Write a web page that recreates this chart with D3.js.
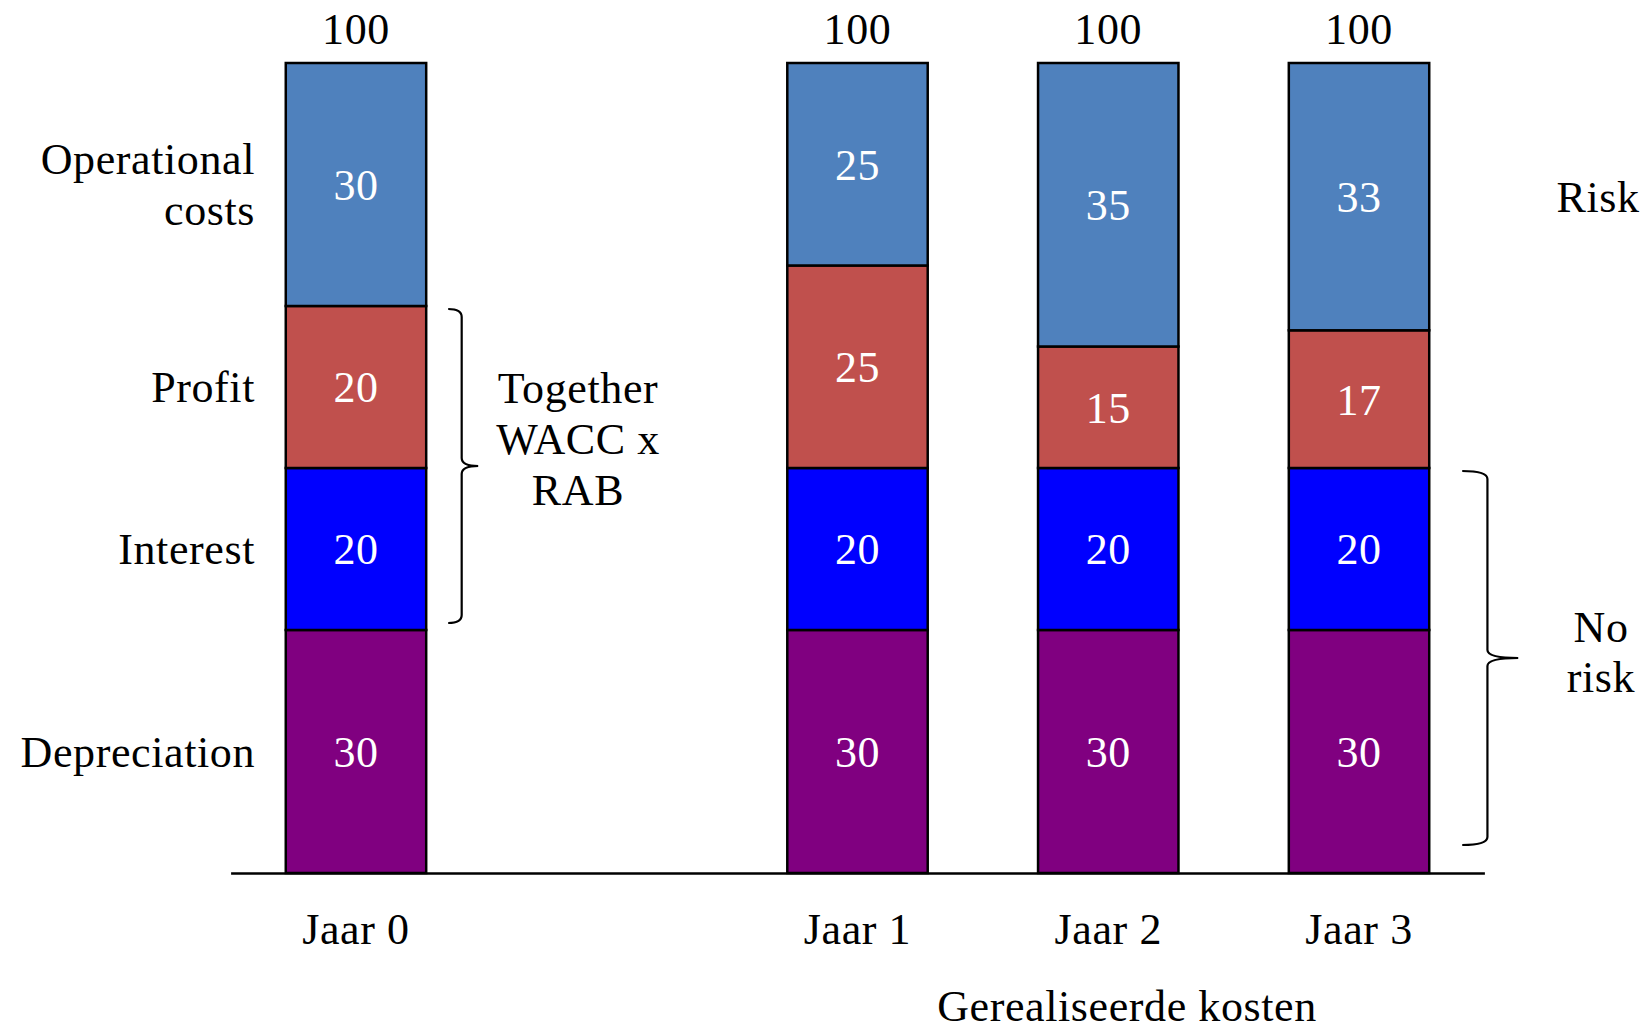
<!DOCTYPE html>
<html><head><meta charset="utf-8">
<script src="https://cdn.jsdelivr.net/npm/d3@7"></script>
<style>body{margin:0;background:#fff}text{font-family:"Liberation Serif","Times New Roman",serif;letter-spacing:0.6px}</style>
</head><body>
<svg id="c" width="1644" height="1031"></svg>
<script>
const categories = ["Jaar 0", "", "Jaar 1", "Jaar 2", "Jaar 3"];
const seriesNames = ["Depreciation", "Interest", "Profit", "Operational costs"];
const depreciation = [30, null, 30, 30, 30];
const interest = [20, null, 20, 20, 20];
const profit = [20, null, 25, 15, 17];
const operational = [30, null, 25, 35, 33];
const totals = [100, null, 100, 100, 100];
const colors = ["#800080", "#0000FF", "#C0504D", "#4F81BD"];
const leftLabels = [["Depreciation"], ["Interest"], ["Profit"], ["Operational", "costs"]];

const svg = d3.select("#c");
const FS = 44;
const x = d3.scaleBand().domain(categories).range([230.6, 1484.4]).paddingInner(0.44).paddingOuter(0.22);
const y = d3.scaleLinear().domain([0, 100]).range([873, 63]);

const rows = categories.map((c, i) => ({cat: c, Depreciation: depreciation[i], Interest: interest[i], Profit: profit[i], "Operational costs": operational[i]})).filter(d => d.cat !== "");
const stack = d3.stack().keys(seriesNames)(rows);

const layers = svg.selectAll("g.layer").data(stack).join("g").attr("fill", (d, i) => colors[i]);
layers.selectAll("rect").data(d => d).join("rect")
  .attr("x", d => x(d.data.cat)).attr("width", x.bandwidth())
  .attr("y", d => y(d[1])).attr("height", d => y(d[0]) - y(d[1]))
  .attr("stroke", "#000").attr("stroke-width", 2.5);

layers.each(function(layer) {
  d3.select(this).selectAll("text").data(layer).join("text")
    .attr("x", d => x(d.data.cat) + x.bandwidth() / 2)
    .attr("y", d => (y(d[0]) + y(d[1])) / 2)
    .attr("dy", "0.35em").attr("text-anchor", "middle")
    .attr("fill", "#fff").attr("font-size", FS)
    .text(d => d[1] - d[0]);
});

// totals
svg.selectAll("text.tot").data(categories.filter(c => c !== "")).join("text")
  .attr("class", "tot")
  .attr("x", c => x(c) + x.bandwidth() / 2).attr("y", y(100) - 34)
  .attr("dy", "0.35em").attr("text-anchor", "middle").attr("font-size", FS)
  .text(c => totals[categories.indexOf(c)]);

// baseline axis
const xAxis = d3.axisBottom(x).tickSize(0).tickPadding(40).tickFormat(d => d);
const ax = svg.append("g").attr("transform", `translate(0,${y(0)})`).call(xAxis);
ax.select(".domain").attr("stroke", "#000").attr("stroke-width", 2.5);
ax.selectAll(".tick text").attr("font-size", FS).attr("font-family", "Liberation Serif, serif").attr("fill", "#000").attr("dy", "0.7em");

// left labels for Jaar 0
const first = stack.map(s => s[0]);
first.forEach((d, i) => {
  const lines = leftLabels[i];
  const cy = (y(d[0]) + y(d[1])) / 2;
  const t = svg.append("text").attr("text-anchor", "end").attr("font-size", FS);
  lines.forEach((ln, j) => {
    t.append("tspan").attr("x", 255).attr("y", cy + (j - (lines.length - 1) / 2) * 51).attr("dy", "0.35em").text(ln);
  });
});

// brace function (right-facing curly brace)
function brace(x0, y0, y1, w) {
  const ym = (y0 + y1) / 2, xm = x0 + w * 0.45, r = 8;
  return `M${x0},${y0} Q${xm},${y0} ${xm},${y0 + r} L${xm},${ym - r} Q${xm},${ym} ${x0 + w},${ym} Q${xm},${ym} ${xm},${ym + r} L${xm},${y1 - r} Q${xm},${y1} ${x0},${y1}`;
}
const b0 = x("Jaar 0") + x.bandwidth();
svg.append("path").attr("d", brace(b0 + 22, y(70) + 3, y(30) - 7, 30)).attr("fill", "none").attr("stroke", "#000").attr("stroke-width", 2.2);
const t1 = svg.append("text").attr("text-anchor", "middle").attr("font-size", FS);
["Together", "WACC x", "RAB"].forEach((ln, j) => t1.append("tspan").attr("x", 578).attr("y", 388 + j * 51).attr("dy", "0.35em").text(ln));

const b3 = x("Jaar 3") + x.bandwidth();
svg.append("path").attr("d", brace(b3 + 33, y(50) + 3, y(0) - 28, 56)).attr("fill", "none").attr("stroke", "#000").attr("stroke-width", 2.2);
const t2 = svg.append("text").attr("text-anchor", "middle").attr("font-size", FS);
["No", "risk"].forEach((ln, j) => t2.append("tspan").attr("x", 1601).attr("y", 627 + j * 50).attr("dy", "0.35em").text(ln));

svg.append("text").attr("x", 1598).attr("y", 197).attr("dy", "0.35em").attr("text-anchor", "middle").attr("font-size", FS).text("Risk");
svg.append("text").attr("x", 1127).attr("y", 1006).attr("dy", "0.35em").attr("text-anchor", "middle").attr("font-size", FS).text("Gerealiseerde kosten");
</script>
</body></html>
